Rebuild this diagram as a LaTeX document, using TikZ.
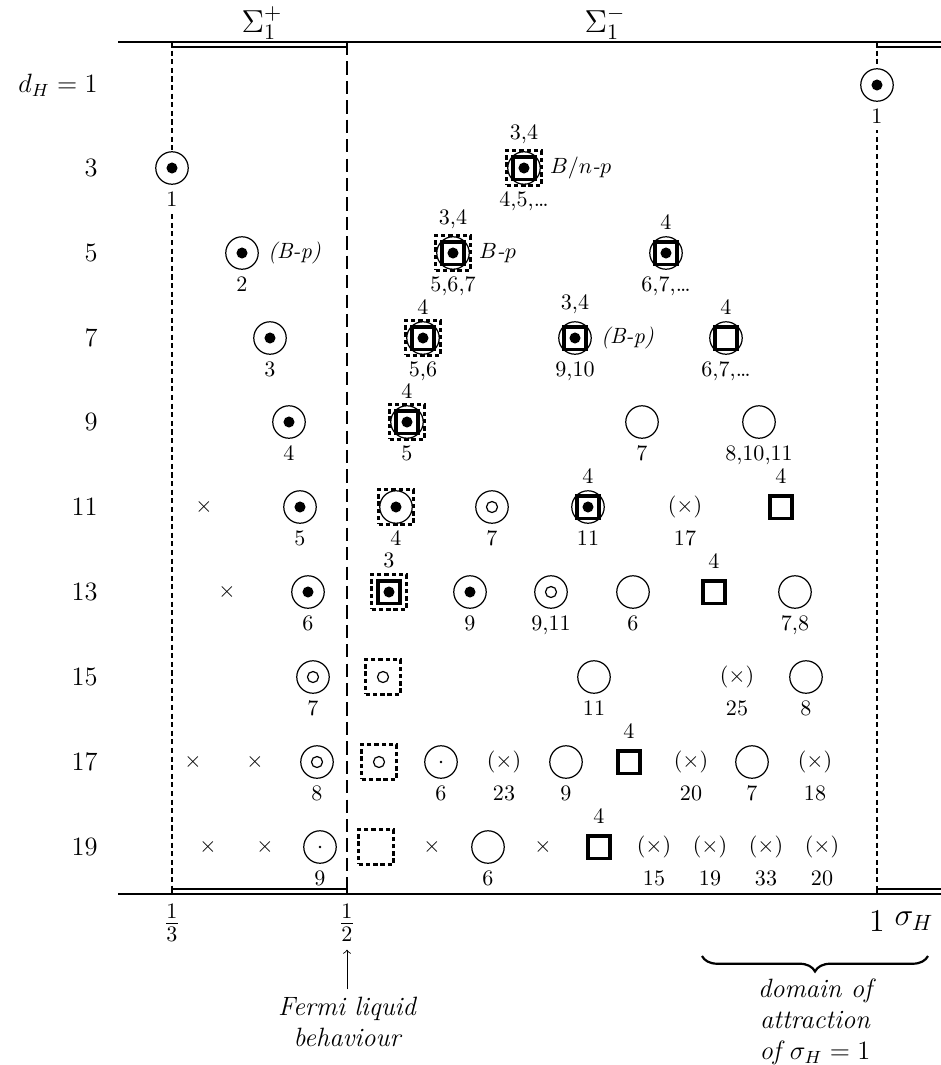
\documentclass[tikz,border=0pt]{standalone}
\usetikzlibrary{decorations.pathreplacing}

\tikzset{
	site/.style={rectangle, minimum size=14.7pt, inner sep=0pt},
	ring/.style={circle, draw, fill=white, line width=0.55pt, minimum size=14.7pt, inner sep=0pt},
	blob/.style={label={[circle, fill, minimum size=5pt, inner sep=0pt]center:}},
	hole/.style={label={[circle, draw, line width=0.55pt, minimum size=5pt, inner sep=0pt]center:}},
	speck/.style={label={[circle, fill, minimum size=1.3pt, inner sep=0pt]center:}},
	boxed/.style={label={[draw, line width=1.4pt, minimum size=10pt, inner sep=0pt]center:}},
	dboxed/.style={label={[draw, line width=1.1pt, dash pattern=on 2pt off 1.3pt, minimum size=15.8pt, inner sep=0pt]center:}},
	up/.style={label={[inner sep=3pt]above:{#1}}},
	dn/.style={label={[inner sep=3pt]below:{#1}}},
	dnw/.style={label={[inner sep=3pt, fill=white]below:{#1}}},
	aside/.style={label={[inner sep=4pt, font=\itshape]right:{#1}}},
	rowlab/.style={anchor=east, inner sep=0pt, font=\large},
	dotline/.style={line width=1.25pt, dash pattern=on 2.3pt off 1.6pt},
	dashline/.style={line width=0.9pt, dash pattern=on 6pt off 2.8pt},
}

\begin{document}
\begin{tikzpicture}[x=0.453pt, y=-0.453pt]
	\useasboundingbox (0,0) rectangle (941,1065);
	\coordinate (thirdtop) at (172,42);
	\coordinate (thirdbot) at (172,894);
	\coordinate (halftop) at (347,42);
	\coordinate (halfbot) at (347,894);
	\coordinate (onetop) at (877,42);
	\coordinate (onebot) at (877,894);
	\coordinate (braceR) at (928,956);
	\coordinate (braceL) at (702,956);
	%Axes
	\draw[line width=0.9pt] (118,42) -- (941,42);
	\draw[line width=0.9pt] (118,894) -- (941,894);
	\draw[line width=1.3pt] (thirdtop) -- ++(0,5) -| (halftop);
	\draw[line width=1.3pt] (onetop) -- ++(0,5) -- ++(64,0);
	\draw[line width=1.3pt] (thirdbot) -- ++(0,-5) -| (halfbot);
	\draw[line width=1.3pt] (onebot) -- ++(0,-5) -- ++(64,0);
	\draw[dotline] (thirdtop) -- (thirdbot);
	\draw[dashline] (halftop) -- (halfbot);
	\draw[dotline] (onetop) -- (onebot);
	\node[font=\Large, inner sep=0pt] (splus) at (262,23) {$\Sigma_1^+$};
	\node[font=\Large, inner sep=0pt] (sminus) at (605,23) {$\Sigma_1^-$};
	%Row labels
	\node[rowlab] (dh1) at (98,85) {$d_H = 1$};
	\foreach \d/\y in {3/168,5/253,7/338,9/422,11/507,13/592,15/677,17/762,19/847}
		\node[rowlab] (row\d) at (98,\y) {$\d$};
	%Fixed points
	\node[ring, blob, dnw=1] (s1a) at (877,85) {};
	\node[ring, blob, dnw=1] (s3a) at (172,168) {};
	\node[ring, dboxed, boxed, blob, up={3,4}, dn={4,5,\dots}, aside={$B/n$-$p$}] (s3b) at (524,168) {};
	\node[ring, blob, dn=2, aside={(B-p)}] (s5a) at (242,253) {};
	\node[ring, dboxed, boxed, blob, up={3,4}, dn={5,6,7}, aside={$B$-$p$}] (s5b) at (453,253) {};
	\node[ring, boxed, blob, up=4, dn={6,7,\dots}] (s5c) at (666,253) {};
	\node[ring, blob, dn=3] (s7a) at (270,338) {};
	\node[ring, dboxed, boxed, blob, up=4, dn={5,6}] (s7b) at (423,338) {};
	\node[ring, boxed, blob, up={3,4}, dn={9,10}, aside={(B-p)}] (s7c) at (575,338) {};
	\node[ring, boxed, up=4, dn={6,7,\dots}] (s7d) at (726,338) {};
	\node[ring, blob, dn=4] (s9a) at (289,422) {};
	\node[ring, dboxed, boxed, blob, up=4, dn=5] (s9b) at (407,422) {};
	\node[ring, dn=7] (s9c) at (642,422) {};
	\node[ring, dn={8,10,11}] (s9d) at (759,422) {};
	\node[site] (s11a) at (204,507) {$\times$};
	\node[ring, blob, dn=5] (s11b) at (300,507) {};
	\node[ring, dboxed, blob, dn=4] (s11c) at (396,507) {};
	\node[ring, hole, dn=7] (s11d) at (492,507) {};
	\node[ring, boxed, blob, up=4, dn=11] (s11e) at (588,507) {};
	\node[site, dn=17] (s11f) at (685,507) {$(\times)$};
	\node[site, boxed, up=4] (s11g) at (781,507) {};
	\node[site] (s13a) at (227,592) {$\times$};
	\node[ring, blob, dn=6] (s13b) at (308,592) {};
	\node[site, dboxed, boxed, blob, up=3] (s13c) at (389,592) {};
	\node[ring, blob, dn=9] (s13d) at (470,592) {};
	\node[ring, hole, dn={9,11}] (s13e) at (551,592) {};
	\node[ring, dn=6] (s13f) at (633,592) {};
	\node[site, boxed, up=4] (s13g) at (714,592) {};
	\node[ring, dn={7,8}] (s13h) at (795,592) {};
	\node[ring, hole, dn=7] (s15a) at (313,677) {};
	\node[site, dboxed, hole] (s15b) at (383,677) {};
	\node[ring, dn=11] (s15c) at (594,677) {};
	\node[site, dn=25] (s15d) at (737,677) {$(\times)$};
	\node[ring, dn=8] (s15e) at (806,677) {};
	\node[site] (s17a) at (193,762) {$\times$};
	\node[site] (s17b) at (255,762) {$\times$};
	\node[ring, hole, dn=8] (s17c) at (317,762) {};
	\node[site, dboxed, hole] (s17d) at (379,762) {};
	\node[ring, speck, dn=6] (s17e) at (441,762) {};
	\node[site, dn=23] (s17f) at (504,762) {$(\times)$};
	\node[ring, dn=9] (s17g) at (566,762) {};
	\node[site, boxed, up=4] (s17h) at (629,762) {};
	\node[site, dn=20] (s17i) at (691,762) {$(\times)$};
	\node[ring, dn=7] (s17j) at (752,762) {};
	\node[site, dn=18] (s17k) at (815,762) {$(\times)$};
	\node[site] (s19a) at (208,847) {$\times$};
	\node[site] (s19b) at (265,847) {$\times$};
	\node[ring, speck, dn=9] (s19c) at (320,847) {};
	\node[site, dboxed] (s19d) at (376,847) {};
	\node[site] (s19e) at (432,847) {$\times$};
	\node[ring, dn=6] (s19f) at (488,847) {};
	\node[site] (s19g) at (543,847) {$\times$};
	\node[site, boxed, up=4] (s19h) at (599,847) {};
	\node[site, dn=15] (s19i) at (654,847) {$(\times)$};
	\node[site, dn=19] (s19j) at (710,847) {$(\times)$};
	\node[site, dn=33] (s19k) at (766,847) {$(\times)$};
	\node[site, dn=20] (s19l) at (822,847) {$(\times)$};
	%Sigma axis
	\node[font=\Large] (third) at (172,923) {$\frac{1}{3}$};
	\node[font=\Large] (half) at (347,923) {$\frac{1}{2}$};
	\node[font=\Large] (one) at (877,921) {$1$};
	\node[font=\Large] (sigH) at (914,921) {$\sigma_H$};
	\node[font=\large\itshape, align=center] (fermi) at (347,1022) {Fermi liquid\\behaviour};
	\draw[->] (fermi) -- (half);
	\draw[line width=1pt, decorate, decoration={brace, amplitude=7pt}] (braceR) -- (braceL);
	\node[font=\large\itshape, align=center, inner sep=0pt] (domain) at (815,1022) {domain of\\attraction\\of $\sigma_H = 1$};
\end{tikzpicture}
\end{document}
